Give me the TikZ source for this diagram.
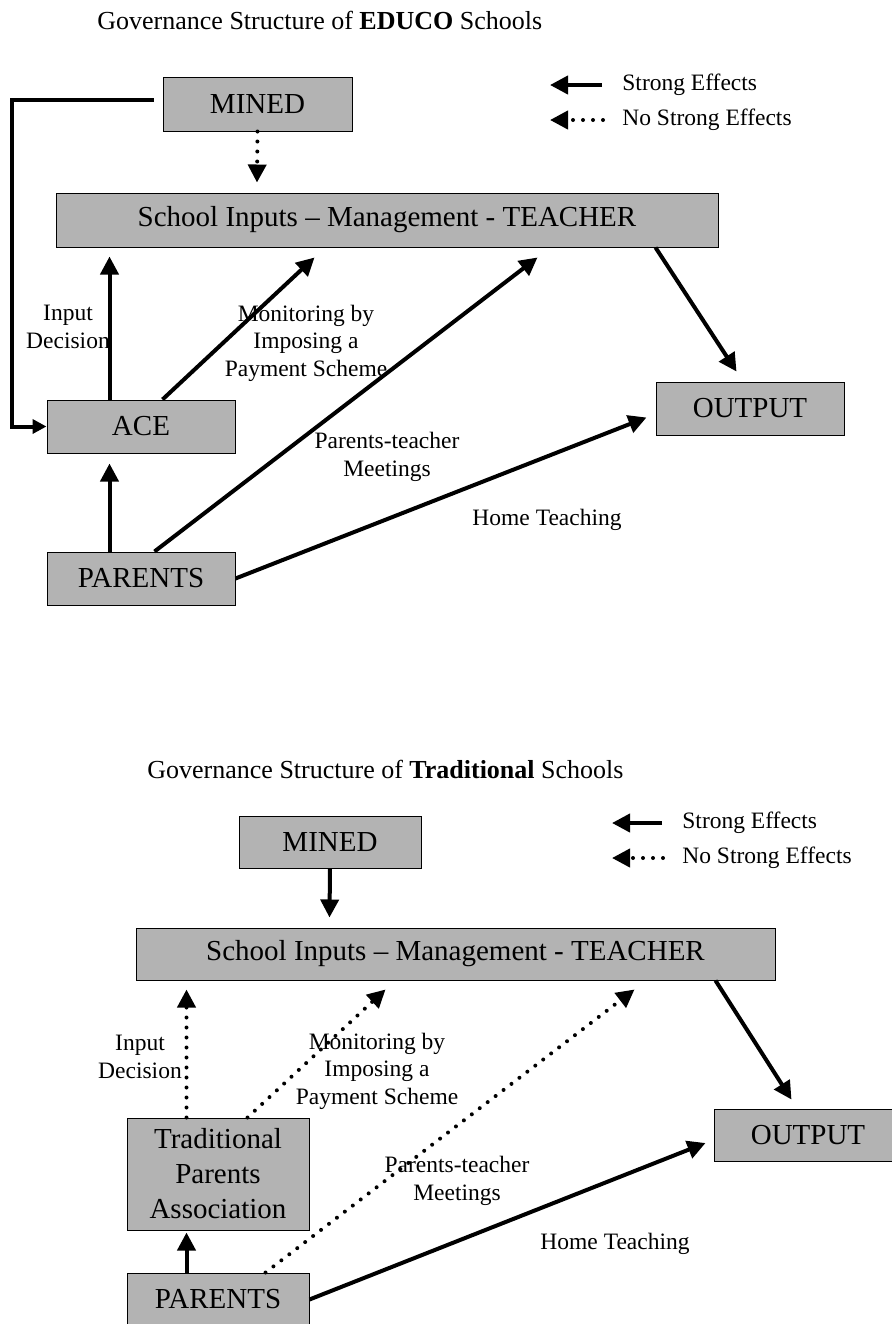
\documentclass[tikz,border=0pt]{standalone}
\usepackage{fontspec}
\setmainfont{Liberation Serif}
\usetikzlibrary{arrows.meta,calc}
\definecolor{boxgray}{RGB}{179,179,179}
\begin{document}
\begin{tikzpicture}[x=0.5pt,y=-0.5pt,
  box/.style={draw=black,line width=0.5pt,fill=boxgray,inner sep=0pt,align=center,
    font=\fontsize{14.5}{17.5}\selectfont},
  lbl/.style={align=center,inner sep=0pt,font=\fontsize{11.75}{13.75}\selectfont},
  ttl/.style={anchor=west,inner sep=0pt,font=\fontsize{13}{15.6}\selectfont},
  tipend/.style={-{Triangle[length=9pt,width=9pt]}},
  strong/.style={line width=2pt,tipend},
  weak/.style={line width=2pt,dash pattern=on 0pt off 5pt,line cap=round,tipend},
]
\useasboundingbox (0,0) rectangle (892,1324);
\clip (0,0) rectangle (892,1324);

% ---------------- EDUCO schools ----------------
\node[ttl] (title1) at (97,20) {Governance Structure of \textbf{EDUCO} Schools};

\node[box,minimum width=94.5pt,minimum height=27pt] (mined1) at (257.5,104) {MINED};
\node[box,minimum width=331pt,minimum height=27pt] (school1) at (387,220) {School Inputs – Management - TEACHER};
\node[box,minimum width=94pt,minimum height=26.5pt] (ace1) at (141,426.5) {ACE};
\node[box,minimum width=94pt,minimum height=26.5pt] (parents1) at (141,578.5) {PARENTS};
\node[box,minimum width=94pt,minimum height=26.5pt] (output1) at (750,408.5) {OUTPUT};

\node[lbl] (inp1) at (68,327) {Input\\Decision};
\node[lbl] (mon1) at (306,343) {Monitoring by\\Imposing a\\Payment Scheme};
\node[lbl] (ptm1) at (387,457) {Parents-teacher\\Meetings};
\node[lbl] (home1) at (547,520) {Home Teaching};

\node[lbl,anchor=west] (leg1a) at (622,85) {Strong Effects};
\node[lbl,anchor=west] (leg1b) at (622,120) {No Strong Effects};
\draw[strong] ($(leg1a.west)+(-20,0)$) -- ($(leg1a.west)+(-72,0)$);
\draw[weak] ($(leg1b.west)+(-19,0)$) -- ($(leg1b.west)+(-72,0)$);

\draw[line width=2pt,-{Triangle[length=7pt,width=7pt]}]
  ($(mined1.west)+(-9,-4)$) -| ($(ace1.west)+(-35,0)$) -- (ace1.west);
\draw[weak] (mined1.south) -- ($(school1.north west)+(201.5,-10)$);
\draw[strong] ($(ace1.north west)+(63,0)$) -- ($(school1.south west)+(54,9)$);
\draw[strong] ($(ace1.north west)+(116,0)$) -- ($(school1.south west)+(259,10)$);
\draw[strong] ($(parents1.north west)+(63,0)$) -- ($(ace1.south west)+(63,10)$);
\draw[strong] ($(parents1.north west)+(108,0)$) -- ($(school1.south west)+(482,10)$);
\draw[strong] (parents1.east) -- ($(output1.west)+(-9,9)$);
\draw[strong] ($(school1.south east)+(-63,0)$) -- ($(output1.north west)+(81,-10)$);

% ---------------- Traditional schools ----------------
\node[ttl] (title2) at (147,769) {Governance Structure of \textbf{Traditional} Schools};

\node[box,minimum width=91pt,minimum height=26pt] (mined2) at (330,842) {MINED};
\node[box,minimum width=319.5pt,minimum height=26pt] (school2) at (455.5,954) {School Inputs – Management - TEACHER};
\node[box,minimum width=91pt,minimum height=56pt] (trad2) at (218,1174) {Traditional\\Parents\\Association};
\node[box,minimum width=91pt,minimum height=26.5pt] (parents2) at (218,1299.5) {PARENTS};
\node[box,minimum width=94pt,minimum height=26pt] (output2) at (808,1135) {OUTPUT};

\node[lbl] (inp2) at (140,1057) {Input\\Decision};
\node[lbl] (mon2) at (377,1071) {Monitoring by\\Imposing a\\Payment Scheme};
\node[lbl] (ptm2) at (457,1181) {Parents-teacher\\Meetings};
\node[lbl] (home2) at (615,1244) {Home Teaching};

\node[lbl,anchor=west] (leg2a) at (682,823) {Strong Effects};
\node[lbl,anchor=west] (leg2b) at (682,858) {No Strong Effects};
\draw[strong] ($(leg2a.west)+(-20,0)$) -- ($(leg2a.west)+(-70,0)$);
\draw[weak] ($(leg2b.west)+(-19,0)$) -- ($(leg2b.west)+(-70,0)$);

\draw[strong] (mined2.south) -- ($(school2.north west)+(194,-10)$);
\draw[weak] ($(trad2.north west)+(60,0)$) -- ($(school2.south west)+(51,9)$);
\draw[weak] ($(trad2.north west)+(121,0)$) -- ($(school2.south west)+(250,9)$);
\draw[weak] ($(parents2.north west)+(139,0)$) -- ($(school2.south west)+(499,9)$);
\draw[strong] ($(parents2.north west)+(60,0)$) -- ($(trad2.south west)+(60,2)$);
\draw[strong] (parents2.east) -- ($(output2.west)+(-8,8)$);
\draw[strong] ($(school2.south east)+(-60,0)$) -- ($(output2.north west)+(78,-9)$);
\end{tikzpicture}
\end{document}
